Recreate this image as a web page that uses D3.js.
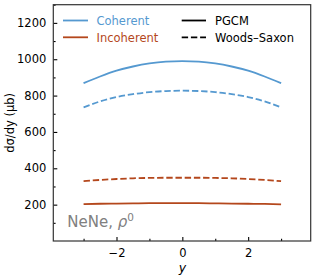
<!DOCTYPE html>
<html>
<head>
<meta charset="utf-8">
<script src="https://cdn.jsdelivr.net/npm/d3@7"></script>
<style>
body { margin: 0; background: #fff; }
text { font-family: "DejaVu Sans", sans-serif; }
</style>
</head>
<body>
<script>
// rapidity points
var rapidity = [-3, -2.5, -2, -1.5, -1, -0.5, 0, 0.5, 1, 1.5, 2, 2.5, 3];

// dsigma/dy in microbarn
var cohPGCM = [868, 905, 937, 960, 977, 987, 990, 987, 977, 960, 937, 905, 868];
var cohWS   = [735, 768, 792, 808, 819, 825, 827, 825, 819, 808, 792, 768, 735];
var incPGCM = [203, 205, 206, 207, 208, 208, 208, 208, 207, 206, 205, 204, 202];
var incWS   = [329, 336, 341, 345, 347, 348, 348, 348, 347, 345, 341, 336, 329];

var xTicks = [-2, 0, 2];
var xMinor = [-3, -1, 1, 3];
var yTicks = [200, 400, 600, 800, 1000, 1200];
var yMinor = [100, 300, 500, 700, 900, 1100, 1300];

var blue = "#5599d0", brown = "#b4471c";

var W = 317, H = 280;
var pLeft = 53.3, pRight = 310.7, pTop = 4.7, pBottom = 241;

var svg = d3.select("body").append("svg")
    .attr("width", W).attr("height", H);

var x = d3.scaleLinear().domain([-3.92, 3.9]).range([pLeft, pRight]);
var y = d3.scaleLinear().domain([0, 1300]).range([pBottom, pTop]);

var series = [
    {v: cohPGCM, c: blue, dash: null},
    {v: cohWS, c: blue, dash: "6.4,2.8"},
    {v: incPGCM, c: brown, dash: null},
    {v: incWS, c: brown, dash: "6.4,2.8"}
];

var line = d3.line()
    .x(function(d, i) { return x(rapidity[i]); })
    .y(function(d) { return y(d); })
    .curve(d3.curveMonotoneX);

series.forEach(function(s) {
    svg.append("path")
       .attr("d", line(s.v))
       .attr("fill", "none")
       .attr("stroke", s.c)
       .attr("stroke-width", 1.8)
       .attr("stroke-dasharray", s.dash);
});

// axes, ticks inward
var xAxis = d3.axisBottom(x).tickValues(xTicks).tickSizeInner(-4).tickSizeOuter(0)
    .tickPadding(8).tickFormat(function(d) { return d < 0 ? "\u2212" + (-d) : d; });
var xAxisMinor = d3.axisBottom(x).tickValues(xMinor).tickSizeInner(-2.3).tickSizeOuter(0).tickFormat("");
var yAxis = d3.axisLeft(y).tickValues(yTicks).tickSizeInner(-4).tickSizeOuter(0)
    .tickPadding(7).tickFormat(d3.format("d"));
var yAxisMinor = d3.axisLeft(y).tickValues(yMinor).tickSizeInner(-2.3).tickSizeOuter(0).tickFormat("");

[xAxis, xAxisMinor].forEach(function(a) {
    svg.append("g").attr("transform", "translate(0," + pBottom + ")").call(a);
});
[yAxis, yAxisMinor].forEach(function(a) {
    svg.append("g").attr("transform", "translate(" + pLeft + ",0)").call(a);
});
svg.selectAll(".domain").remove();
svg.selectAll(".tick line").attr("stroke", "#000").attr("stroke-width", 1.1);
svg.selectAll(".tick text").attr("font-size", 11.5).attr("fill", "#000")
    .style("font-family", "DejaVu Sans, sans-serif");

// frame
svg.append("rect")
   .attr("x", pLeft).attr("y", pTop)
   .attr("width", pRight - pLeft).attr("height", pBottom - pTop)
   .attr("fill", "none").attr("stroke", "#333").attr("stroke-width", 1.2);

// axis labels
svg.append("text")
   .attr("transform", "translate(14," + ((pTop + pBottom) / 2) + ") rotate(-90)")
   .attr("text-anchor", "middle").attr("font-size", 11.5)
   .text("d\u03c3/dy (\u03bcb)");
svg.append("text")
   .attr("x", x(0)).attr("y", 272)
   .attr("text-anchor", "middle").attr("font-size", 12.5).attr("font-style", "italic")
   .text("y");

// legends
var leg1 = [{t: "Coherent", c: blue}, {t: "Incoherent", c: brown}];
leg1.forEach(function(d, i) {
    var cy = 20.5 + i * 16.8;
    svg.append("line").attr("x1", 63).attr("x2", 88).attr("y1", cy).attr("y2", cy)
       .attr("stroke", d.c).attr("stroke-width", 1.8);
    svg.append("text").attr("x", 96.5).attr("y", cy + 4.2)
       .attr("font-size", 11.5).attr("fill", d.c).text(d.t);
});
var leg2 = [{t: "PGCM", dash: null}, {t: "Woods\u2013Saxon", dash: "6.4,2.8"}];
leg2.forEach(function(d, i) {
    var cy = 20.5 + i * 16.8;
    svg.append("line").attr("x1", 181.7).attr("x2", 206).attr("y1", cy).attr("y2", cy)
       .attr("stroke", "#000").attr("stroke-width", 1.8).attr("stroke-dasharray", d.dash);
    svg.append("text").attr("x", 215).attr("y", cy + 4.2)
       .attr("font-size", 11.5).attr("fill", "#000").text(d.t);
});

// system label
var lab = svg.append("text").attr("x", 67.3).attr("y", 227)
    .attr("font-size", 15).attr("fill", "#808080");
lab.append("tspan").text("NeNe, ");
lab.append("tspan").attr("font-style", "italic").text("\u03c1");
lab.append("tspan").attr("font-size", 10.5).attr("dy", -6).text("0");
</script>
</body>
</html>
